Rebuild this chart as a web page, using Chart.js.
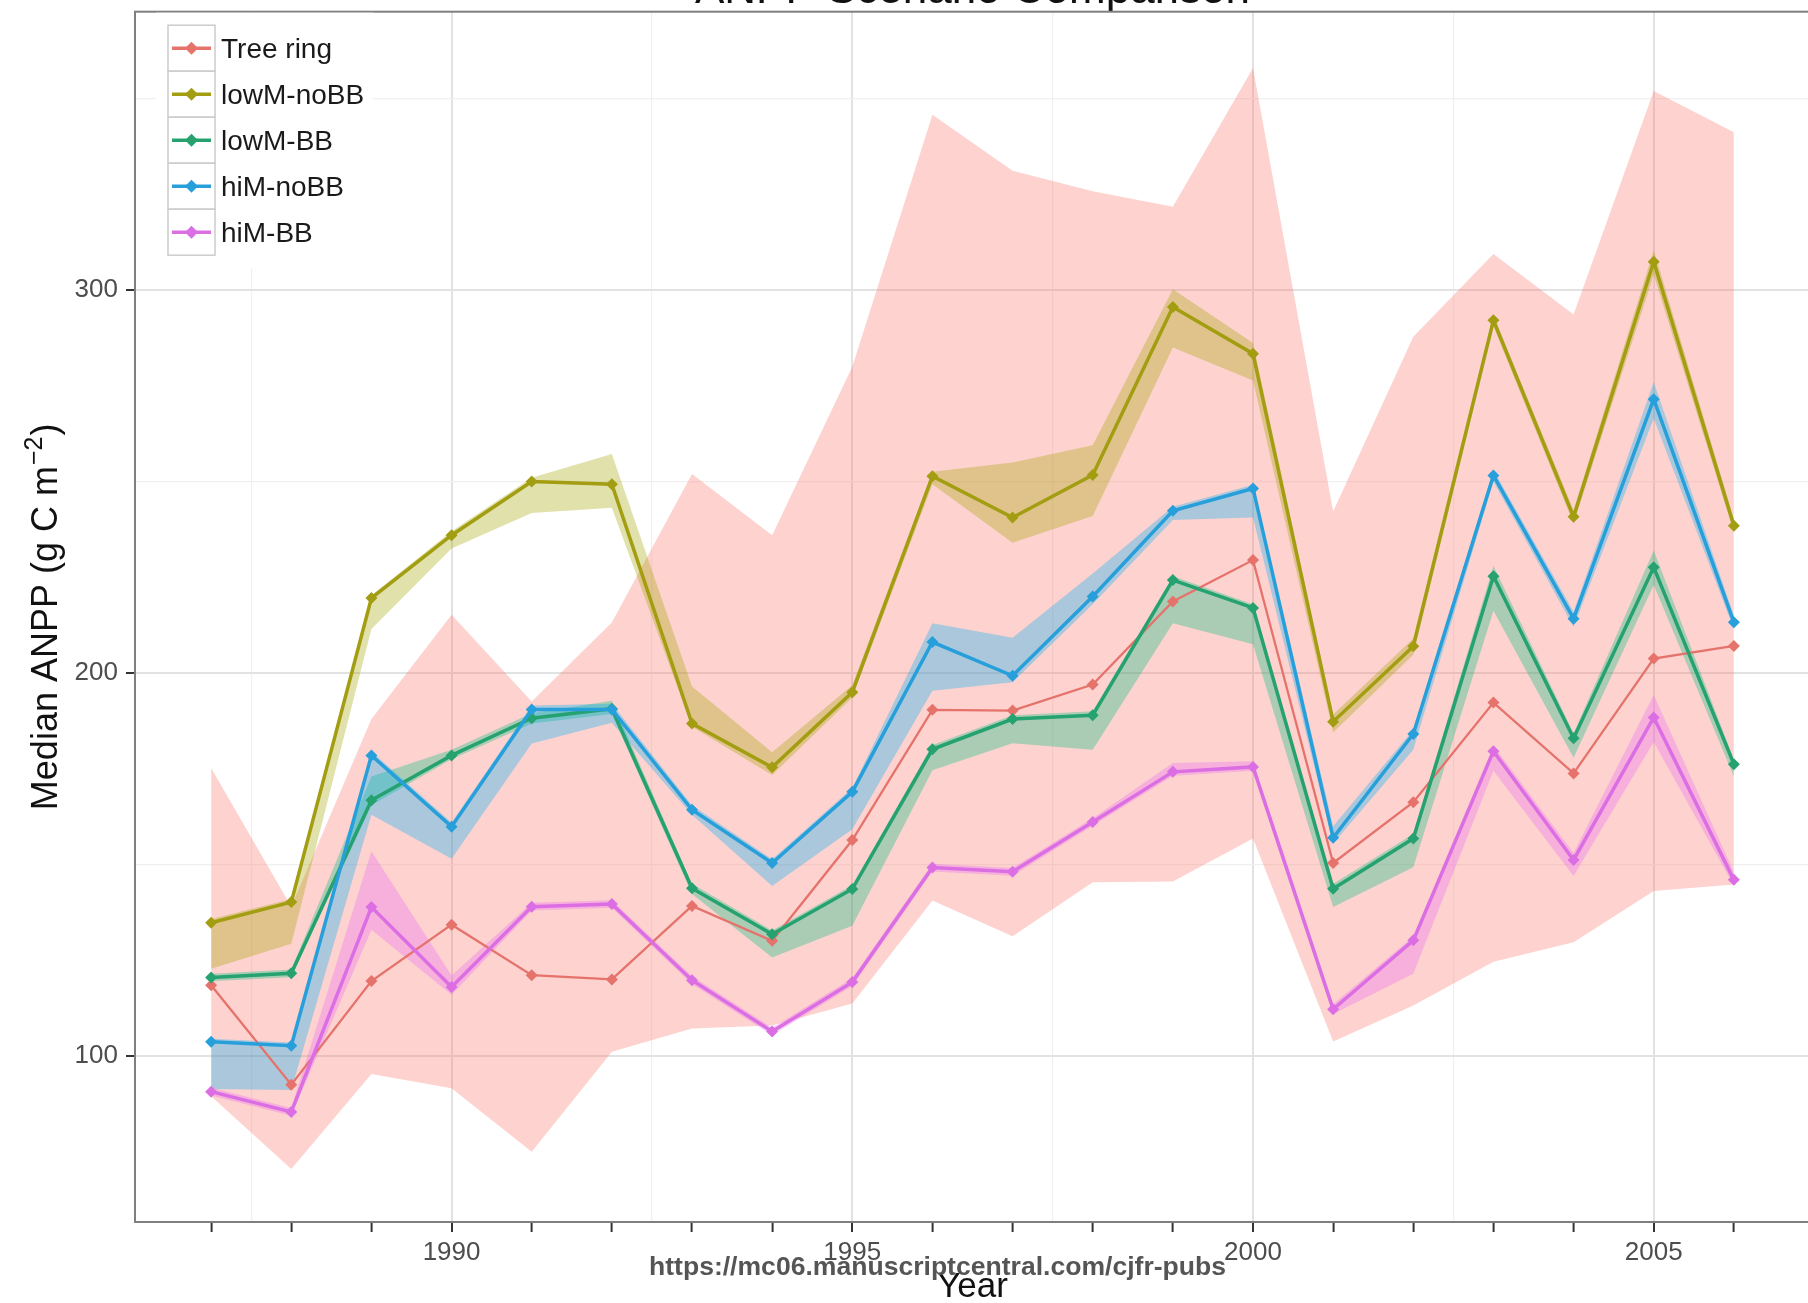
<!DOCTYPE html>
<html>
<head>
<meta charset="utf-8">
<title>ANPP Scenario Comparison</title>
<script src="https://cdn.jsdelivr.net/npm/chart.js@4.4.1/dist/chart.umd.min.js"></script>
<style>
  html, body { margin: 0; padding: 0; background: #ffffff; overflow: hidden; width: 1808px; height: 1303px; }
  #wrap { position: absolute; left: 0; top: -40px; width: 1816px; height: 1343px; }
  canvas { display: block; }
</style>
</head>
<body>
<div id="wrap"><canvas id="chart" width="1816" height="1343"></canvas></div>
<script>
// ---- data -------------------------------------------------------------
const years = [1987, 1988, 1989, 1990, 1991, 1992, 1993, 1994, 1995, 1996,
               1997, 1998, 1999, 2000, 2001, 2002, 2003, 2004, 2005, 2006];

// Tree-ring reconstruction: median and uncertainty band
const treeRing     = [118.5, 92.5, 119.6, 134.3, 121.1, 120.0, 139.2, 130.1, 156.4, 190.4,
                      190.2, 197.0, 218.7, 229.5, 150.4, 166.3, 192.3, 173.8, 203.8, 207.1];
const treeRingLow  = [89.5, 70.5, 95.3, 91.6, 75.0, 101.1, 107.2, 108.0, 113.7, 140.6,
                      131.3, 145.4, 145.6, 156.8, 103.8, 113.2, 124.6, 129.7, 143.1, 144.8];
const treeRingHigh = [175.2, 139.0, 188.0, 215.2, 192.6, 213.2, 252.0, 236.0, 280.0, 345.8,
                      331.2, 325.8, 321.8, 358.0, 242.2, 287.8, 309.4, 293.6, 352.0, 341.2];

// low mortality, no bark beetle
const lowMnoBB     = [134.8, 140.2, 219.6, 236.0, 250.0, 249.3, 186.8, 175.4, 195.0, 251.4,
                      240.6, 251.7, 295.6, 283.4, 187.3, 207.0, 292.1, 240.8, 307.4, 238.5];
const lowMnoBBLow  = [122.8, 129.3, 211.5, 232.5, 241.8, 243.2, 186.0, 173.4, 193.6, 249.3,
                      234.0, 241.0, 285.0, 276.4, 184.5, 204.8, 290.5, 239.0, 304.0, 236.8];
const lowMnoBBHigh = [135.8, 141.0, 220.3, 237.0, 251.0, 257.2, 196.5, 179.3, 196.8, 252.6,
                      255.0, 259.5, 300.2, 286.2, 189.2, 209.0, 293.5, 242.5, 310.5, 240.2];

// low mortality, bark beetle
const lowMBB       = [120.5, 121.6, 166.8, 178.5, 188.2, 190.7, 143.8, 131.8, 143.6, 180.1,
                      188.0, 189.0, 224.3, 217.0, 143.7, 156.8, 225.3, 183.0, 227.6, 176.2];
const lowMBBLow    = [119.5, 120.6, 165.5, 177.5, 186.8, 189.3, 142.3, 125.7, 134.0, 174.6,
                      181.7, 180.0, 213.0, 207.5, 138.9, 149.3, 216.3, 177.9, 223.0, 173.0];
const lowMBBHigh   = [121.5, 122.6, 173.0, 180.0, 189.5, 192.8, 145.0, 132.8, 144.6, 181.2,
                      189.0, 190.0, 225.3, 218.0, 145.0, 158.0, 228.0, 184.3, 232.0, 177.5];

// high mortality, no bark beetle
const hiMnoBB      = [103.7, 102.7, 178.5, 159.9, 190.5, 190.5, 164.3, 150.4, 169.0, 208.1,
                      199.3, 220.0, 242.4, 248.2, 157.0, 184.1, 251.6, 214.2, 271.5, 213.3];
const hiMnoBBLow   = [91.4, 91.1, 163.0, 151.5, 181.6, 187.0, 163.0, 144.4, 159.2, 195.4,
                      197.6, 218.0, 240.0, 240.6, 155.5, 180.0, 250.0, 212.0, 266.5, 211.5];
const hiMnoBBHigh  = [104.5, 103.5, 179.5, 161.0, 191.5, 192.0, 165.5, 151.4, 170.0, 213.0,
                      209.2, 226.0, 243.4, 249.2, 160.0, 185.2, 253.0, 216.0, 276.0, 215.0];

// high mortality, bark beetle
const hiMBB        = [90.7, 85.4, 138.9, 118.0, 139.0, 139.7, 119.8, 106.4, 119.3, 149.2,
                      148.1, 161.1, 174.2, 175.5, 112.2, 130.2, 179.6, 151.2, 188.4, 146.0];
const hiMBBLow     = [89.7, 84.4, 133.0, 116.0, 138.0, 138.7, 118.8, 105.4, 118.3, 148.2,
                      147.1, 160.1, 173.2, 174.5, 111.0, 121.5, 174.5, 147.0, 182.0, 144.5];
const hiMBBHigh    = [91.7, 86.4, 153.5, 121.0, 140.0, 140.7, 120.8, 107.4, 120.3, 150.2,
                      149.1, 162.1, 176.5, 177.0, 113.5, 131.2, 181.0, 153.0, 194.3, 148.0];

const seriesNames = ['Tree ring', 'lowM-noBB', 'lowM-BB', 'hiM-noBB', 'hiM-BB'];
const xTickValues = [1987, 1987.5, 1988, 1989, 1990, 1991, 1992, 1992.5, 1993, 1994, 1995,
                     1996, 1997, 1997.5, 1998, 1999, 2000, 2001, 2002, 2002.5, 2003, 2004,
                     2005, 2006];
const yTickValues = [100, 150, 200, 250, 300, 350];

// ---- styling ----------------------------------------------------------
const FONT = '"Liberation Sans", Arial, Helvetica, sans-serif';
const series = [
  { name: seriesNames[0], mid: treeRing, lo: treeRingLow, hi: treeRingHigh,
    line: '#E5736B', band: 'rgba(248,118,109,0.33)', width: 2.3 },
  { name: seriesNames[1], mid: lowMnoBB, lo: lowMnoBBLow, hi: lowMnoBBHigh,
    line: '#A39D12', band: 'rgba(163,165,0,0.33)', width: 3.5 },
  { name: seriesNames[2], mid: lowMBB, lo: lowMBBLow, hi: lowMBBHigh,
    line: '#26A270', band: 'rgba(0,191,125,0.33)', width: 3.5 },
  { name: seriesNames[3], mid: hiMnoBB, lo: hiMnoBBLow, hi: hiMnoBBHigh,
    line: '#279FDA', band: 'rgba(0,176,246,0.33)', width: 3.5 },
  { name: seriesNames[4], mid: hiMBB, lo: hiMBBLow, hi: hiMBBHigh,
    line: '#DC6EE4', band: 'rgba(231,107,243,0.33)', width: 3.5 }
];

const toPoints = arr => years.map((yr, k) => ({ x: yr, y: arr[k] }));
const CLEAR = 'rgba(0,0,0,0)';

// Ribbons first (lower bound + upper bound filled down to it), then the median lines.
const datasets = [];
series.forEach((s, i) => {
  datasets.push({
    label: s.name + ' lower', data: toPoints(s.lo), order: 100 - i * 2,
    borderColor: CLEAR, borderWidth: 0, pointRadius: 0, fill: false
  });
  datasets.push({
    label: s.name + ' upper', data: toPoints(s.hi), order: 100 - i * 2,
    borderColor: CLEAR, borderWidth: 0, pointRadius: 0,
    backgroundColor: s.band, fill: '-1'
  });
});
series.forEach((s, i) => {
  datasets.push({
    label: s.name, data: toPoints(s.mid), order: 10 - i,
    borderColor: s.line, borderWidth: s.width, fill: false,
    pointStyle: 'rectRot', pointRadius: 6, pointBackgroundColor: s.line,
    pointBorderColor: s.line, pointBorderWidth: 0
  });
});

// ---- custom drawing ---------------------------------------------------
const panelFrame = {
  id: 'panelFrame',
  afterDatasetsDraw(chart) {
    const { ctx, chartArea: a } = chart;
    ctx.save();
    ctx.strokeStyle = '#7F7F7F';
    ctx.lineWidth = 2;
    ctx.strokeRect(a.left, a.top, a.right - a.left, a.bottom - a.top);
    ctx.restore();
  }
};

const yAxisTitle = {
  id: 'yAxisTitle',
  afterDraw(chart) {
    const { ctx, chartArea: a } = chart;
    const main = 'Median ANPP (g C m', sup = '\u22122', tail = ')';
    ctx.save();
    ctx.fillStyle = '#111111';
    ctx.font = `36px ${FONT}`;
    const w1 = ctx.measureText(main).width;
    const w3 = ctx.measureText(tail).width;
    ctx.font = `25px ${FONT}`;
    const w2 = ctx.measureText(sup).width;
    const total = w1 + w2 + w3 + 2;
    ctx.translate(56.5, (a.top + a.bottom) / 2);
    ctx.rotate(-Math.PI / 2);
    ctx.textAlign = 'left';
    ctx.textBaseline = 'alphabetic';
    let x = -total / 2;
    ctx.font = `36px ${FONT}`;
    ctx.fillText(main, x, 0);
    x += w1 + 1;
    ctx.font = `25px ${FONT}`;
    ctx.fillText(sup, x, -15);
    x += w2 + 1;
    ctx.font = `36px ${FONT}`;
    ctx.fillText(tail, x, 0);
    ctx.restore();
  }
};

const keyLegend = {
  id: 'keyLegend',
  afterDraw(chart) {
    const { ctx, chartArea: a } = chart;
    const keyX = a.left + 33, keyY = a.top + 13.5, keyW = 47, keyH = 46;
    ctx.save();
    ctx.fillStyle = '#ffffff';
    ctx.fillRect(a.left + 21, a.top + 1, 217, 256);
    series.forEach((s, i) => {
      const y0 = keyY + keyH * i;
      const cy = y0 + keyH / 2;
      ctx.fillStyle = '#ffffff';
      ctx.fillRect(keyX, y0, keyW, keyH);
      ctx.strokeStyle = '#CCCCCC';
      ctx.lineWidth = 1.5;
      ctx.strokeRect(keyX, y0, keyW, keyH);
      ctx.strokeStyle = s.line;
      ctx.lineWidth = 3.5;
      ctx.beginPath();
      ctx.moveTo(keyX + 4, cy);
      ctx.lineTo(keyX + keyW - 4, cy);
      ctx.stroke();
      const cx = keyX + keyW / 2, r = 6.5;
      ctx.fillStyle = s.line;
      ctx.beginPath();
      ctx.moveTo(cx, cy - r); ctx.lineTo(cx + r, cy); ctx.lineTo(cx, cy + r); ctx.lineTo(cx - r, cy);
      ctx.closePath();
      ctx.fill();
      ctx.fillStyle = '#1A1A1A';
      ctx.font = `28px ${FONT}`;
      ctx.textAlign = 'left';
      ctx.textBaseline = 'middle';
      ctx.fillText(s.name, keyX + keyW + 6, cy + 2);
    });
    ctx.restore();
  }
};

const footerMark = {
  id: 'footerMark',
  afterDraw(chart) {
    const { ctx, chartArea: a } = chart;
    const text = 'https://mc06.manuscriptcentral.com/cjfr-pubs';
    ctx.save();
    ctx.font = `bold 25px ${FONT}`;
    const w = ctx.measureText(text).width;
    ctx.translate(937.5, a.bottom + 46);
    ctx.scale(577 / w, 1);
    ctx.fillStyle = '#555555';
    ctx.textAlign = 'center';
    ctx.textBaseline = 'middle';
    ctx.fillText(text, 0, 0);
    ctx.restore();
  }
};

// ---- chart ------------------------------------------------------------
const majorGrid = '#E2E2E2', minorGrid = '#F0F0F0', tickInk = '#333333';

new Chart(document.getElementById('chart'), {
  type: 'line',
  data: { datasets },
  plugins: [panelFrame, yAxisTitle, keyLegend, footerMark],
  options: {
    responsive: false,
    animation: false,
    events: [],
    layout: { padding: { left: 0, right: 5, top: 0, bottom: 0 } },
    elements: { line: { tension: 0 } },
    plugins: {
      legend: { display: false },
      tooltip: { enabled: false },
      filler: { propagate: false, drawTime: 'beforeDatasetsDraw' },
      title: {
        display: true,
        text: 'ANPP Scenario Comparison',
        fullSize: false,
        color: '#111111',
        font: { family: FONT, size: 44, weight: 'normal', lineHeight: 0.9 },
        padding: { top: 10.7, bottom: 1.4 }
      }
    },
    scales: {
      x: {
        type: 'linear',
        min: 1986.05,
        max: 2006.95,
        afterBuildTicks: s => { s.ticks = xTickValues.map(v => ({ value: v })); },
        afterFit: s => { s.height = 81; },
        ticks: {
          autoSkip: false, maxRotation: 0, minRotation: 0, padding: 5.3,
          color: '#4D4D4D', font: { family: FONT, size: 26 },
          callback: v => (v % 5 === 0 ? String(v) : '')
        },
        grid: {
          color: c => (c.tick.value % 5 === 0 ? majorGrid : (c.tick.value % 2.5 === 0 ? minorGrid : CLEAR)),
          lineWidth: c => (c.tick.value % 5 === 0 ? 2 : 1.2),
          tickColor: c => (Number.isInteger(c.tick.value) ? tickInk : CLEAR),
          tickWidth: 2,
          tickLength: 10
        },
        border: { display: false },
        title: {
          display: true, text: 'Year', color: '#111111',
          font: { family: FONT, size: 35, lineHeight: 0.9 },
          padding: { top: 0, bottom: 0 }
        }
      },
      y: {
        type: 'linear',
        min: 56.66,
        max: 372.7,
        afterBuildTicks: s => { s.ticks = yTickValues.map(v => ({ value: v })); },
        afterFit: s => { s.width = 135; },
        ticks: {
          padding: 8, color: '#4D4D4D', font: { family: FONT, size: 26 },
          callback: v => (v % 100 === 0 ? String(v) : '')
        },
        grid: {
          color: c => (c.tick.value % 100 === 0 ? majorGrid : minorGrid),
          lineWidth: c => (c.tick.value % 100 === 0 ? 2 : 1.2),
          tickColor: c => (c.tick.value % 100 === 0 ? tickInk : CLEAR),
          tickWidth: 2,
          tickLength: 9
        },
        border: { display: false }
      }
    }
  }
});
</script>
</body>
</html>
